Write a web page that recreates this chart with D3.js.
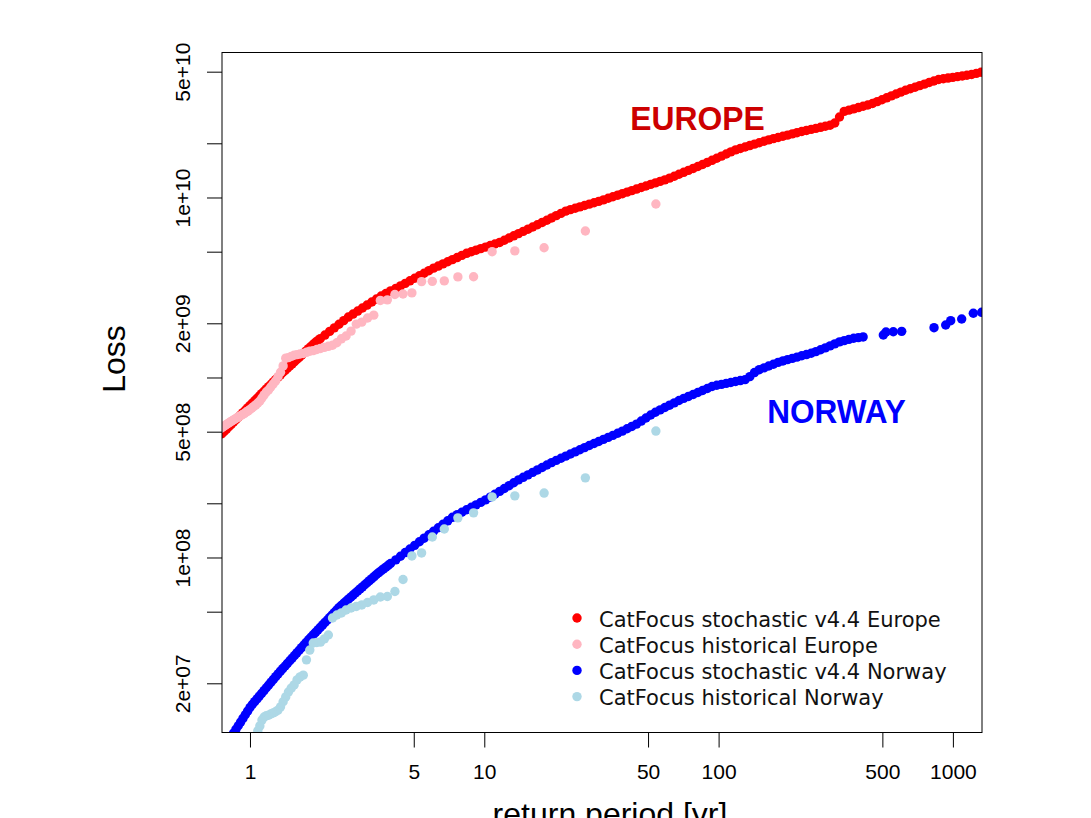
<!DOCTYPE html>
<html>
<head>
<meta charset="utf-8">
<script src="https://cdn.jsdelivr.net/npm/d3@7"></script>
<style>
  html, body { margin: 0; padding: 0; background: #ffffff; }
  svg { display: block; }
</style>
</head>
<body>
<svg id="chart" width="1091" height="818"></svg>
<script>
// ---- data -------------------------------------------------------------

// Return periods (yr) of the ranked historical events (54 years of record)
const histReturnPeriods = [
  54, 27, 18, 13.5, 10.8, 9, 7.714, 6.75, 6, 5.4,
  4.909, 4.5, 4.154, 3.857, 3.6, 3.375, 3.176, 3, 2.842, 2.7,
  2.571, 2.455, 2.348, 2.25, 2.16, 2.077, 2, 1.929, 1.862, 1.8,
  1.742, 1.688, 1.636, 1.588, 1.543, 1.5, 1.459, 1.421, 1.385, 1.35,
  1.317, 1.286, 1.256, 1.227, 1.2, 1.174, 1.149, 1.125, 1.102, 1.08,
  1.059, 1.038, 1.019, 1, 0.9818, 0.9643, 0.9474, 0.931, 0.9153, 0.9,
  0.8852, 0.871, 0.8571, 0.8438, 0.8308, 0.8182, 0.806, 0.7941, 0.7826, 0.7714,
  0.7606, 0.75
];

// Historical event losses, largest first
const europeHistorical = [
  9.20e9, 6.51e9, 5.26e9, 5.05e9, 5.00e9, 3.63e9, 3.62e9, 3.44e9, 3.42e9, 3.41e9,
  2.95e9, 2.91e9, 2.89e9, 2.70e9, 2.68e9, 2.22e9, 2.14e9, 2.03e9, 1.98e9, 1.81e9,
  1.70e9, 1.64e9, 1.56e9, 1.51e9, 1.49e9, 1.47e9, 1.45e9, 1.43e9, 1.41e9, 1.40e9,
  1.38e9, 1.36e9, 1.35e9, 1.34e9, 1.33e9, 1.31e9, 1.29e9, 1.28e9, 1.16e9, 1.07e9,
  1.01e9, 9.56e8, 9.20e8, 8.86e8, 8.52e8, 8.31e8, 8.00e8, 7.69e8, 7.40e8, 7.22e8,
  7.04e8, 6.90e8, 6.77e8, 6.64e8, 6.52e8, 6.43e8, 6.31e8, 6.23e8, 6.15e8, 6.07e8,
  6.00e8, 5.92e8, 5.84e8, 5.77e8, 5.70e8, 5.62e8, 5.55e8, 5.48e8, 5.41e8, 5.34e8,
  5.28e8, 5.22e8
];

const norwayHistorical = [
  5.04e8, 2.77e8, 2.28e8, 2.20e8, 2.17e8, 1.77e8, 1.66e8, 1.44e8, 1.30e8, 1.06e8,
  1.02e8, 7.55e7, 6.47e7, 6.07e7, 6.03e7, 5.81e7, 5.62e7, 5.45e7, 5.34e7, 5.24e7,
  5.11e7, 4.92e7, 4.79e7, 4.61e7, 3.71e7, 3.53e7, 3.39e7, 3.37e7, 3.35e7, 3.06e7,
  2.70e7, 2.22e7, 2.17e7, 2.09e7, 1.96e7, 1.88e7, 1.79e7, 1.68e7, 1.58e7, 1.48e7,
  1.42e7, 1.39e7, 1.37e7, 1.35e7, 1.33e7, 1.32e7, 1.30e7, 1.25e7, 1.16e7, 1.09e7,
  1.02e7, 9.6e6
];

// Stochastic event set v4.4: [return period (yr), loss]
const europeStochastic = [
  [0.7586, 4.87e8], [0.7762, 5.01e8], [0.7943, 5.17e8], [0.8128, 5.33e8], [0.8318, 5.49e8],
  [0.8511, 5.66e8], [0.8710, 5.83e8], [0.8913, 6.01e8], [0.9120, 6.19e8], [0.9333, 6.38e8],
  [0.9550, 6.58e8], [0.9772, 6.78e8], [1.000, 6.99e8], [1.023, 7.20e8], [1.047, 7.43e8],
  [1.072, 7.65e8], [1.096, 7.89e8], [1.122, 8.13e8], [1.148, 8.38e8], [1.175, 8.64e8],
  [1.202, 8.90e8], [1.230, 9.17e8], [1.259, 9.45e8], [1.288, 9.74e8], [1.318, 1.004e9],
  [1.349, 1.035e9], [1.380, 1.066e9], [1.413, 1.096e9], [1.445, 1.127e9], [1.479, 1.158e9],
  [1.514, 1.191e9], [1.549, 1.224e9], [1.585, 1.259e9], [1.622, 1.294e9], [1.660, 1.330e9],
  [1.698, 1.368e9], [1.738, 1.406e9], [1.778, 1.446e9], [1.820, 1.486e9], [1.862, 1.529e9],
  [1.905, 1.570e9], [1.950, 1.606e9], [1.995, 1.644e9], [2.089, 1.721e9], [2.188, 1.803e9],
  [2.291, 1.887e9], [2.399, 1.976e9], [2.512, 2.069e9], [2.630, 2.166e9], [2.754, 2.251e9],
  [2.884, 2.339e9], [3.020, 2.431e9], [3.162, 2.526e9], [3.311, 2.626e9], [3.467, 2.729e9],
  [3.631, 2.836e9], [3.802, 2.929e9], [3.981, 3.026e9], [4.192, 3.126e9], [4.390, 3.228e9],
  [4.599, 3.335e9], [4.817, 3.444e9], [5.046, 3.558e9], [5.286, 3.675e9], [5.536, 3.796e9],
  [5.799, 3.921e9], [6.075, 4.049e9], [6.364, 4.160e9], [6.665, 4.276e9], [6.982, 4.393e9],
  [7.313, 4.514e9], [7.661, 4.638e9], [8.024, 4.766e9], [8.406, 4.896e9], [8.805, 4.995e9],
  [9.222, 5.096e9], [9.660, 5.199e9], [10.12, 5.303e9], [10.60, 5.410e9], [11.10, 5.518e9],
  [11.63, 5.628e9], [12.18, 5.787e9], [12.76, 5.954e9], [13.36, 6.125e9], [14.00, 6.301e9],
  [14.66, 6.480e9], [15.37, 6.666e9], [16.09, 6.857e9], [16.86, 7.060e9], [17.66, 7.267e9],
  [18.50, 7.479e9], [19.37, 7.699e9], [20.29, 7.925e9], [21.25, 8.159e9], [22.27, 8.399e9],
  [23.32, 8.566e9], [24.43, 8.718e9], [25.59, 8.873e9], [26.80, 9.030e9], [28.07, 9.190e9],
  [29.41, 9.354e9], [30.80, 9.520e9], [32.26, 9.700e9], [33.80, 9.900e9], [35.40, 1.009e10],
  [37.09, 1.030e10], [38.85, 1.050e10], [40.69, 1.071e10], [42.62, 1.092e10], [44.64, 1.114e10],
  [46.77, 1.136e10], [48.98, 1.159e10], [51.31, 1.182e10], [53.75, 1.205e10], [56.29, 1.229e10],
  [58.97, 1.253e10], [61.78, 1.281e10], [64.71, 1.313e10], [67.78, 1.346e10], [70.99, 1.380e10],
  [74.36, 1.414e10], [77.90, 1.450e10], [81.59, 1.486e10], [85.47, 1.525e10], [89.53, 1.566e10],
  [93.78, 1.609e10], [98.23, 1.653e10], [102.9, 1.698e10], [107.8, 1.744e10], [112.8, 1.792e10],
  [118.2, 1.839e10], [123.8, 1.873e10], [129.8, 1.908e10], [135.9, 1.943e10], [142.3, 1.979e10],
  [149.1, 2.015e10], [156.3, 2.052e10], [163.6, 2.090e10], [171.4, 2.123e10], [179.5, 2.155e10],
  [188.1, 2.188e10], [196.9, 2.222e10], [206.3, 2.256e10], [216.1, 2.291e10], [226.4, 2.326e10],
  [237.2, 2.358e10], [248.4, 2.389e10], [260.2, 2.422e10], [272.5, 2.454e10], [285.5, 2.487e10],
  [299.0, 2.520e10], [313.2, 2.594e10], [328.1, 2.801e10], [343.7, 3.008e10], [360.0, 3.056e10],
  [377.1, 3.107e10], [395.0, 3.159e10], [413.8, 3.211e10], [433.4, 3.264e10], [454.0, 3.328e10],
  [475.5, 3.410e10], [498.1, 3.493e10], [521.8, 3.579e10], [546.5, 3.667e10], [572.4, 3.757e10],
  [599.6, 3.849e10], [628.2, 3.940e10], [658.0, 4.018e10], [689.2, 4.099e10], [721.9, 4.181e10],
  [756.2, 4.266e10], [792.1, 4.351e10], [829.7, 4.439e10], [869.1, 4.525e10], [910.4, 4.566e10],
  [953.6, 4.608e10], [998.9, 4.649e10], [1046, 4.692e10], [1096, 4.734e10], [1148, 4.777e10],
  [1202, 4.821e10], [1259, 4.890e10], [1319, 4.965e10], [1382, 5.040e10]
];

const norwayStochastic = [
  [0.7943, 9.20e6], [0.8128, 9.64e6], [0.8318, 1.010e7], [0.8511, 1.058e7], [0.8710, 1.109e7],
  [0.8913, 1.162e7], [0.9120, 1.218e7], [0.9333, 1.276e7], [0.9550, 1.337e7], [0.9772, 1.401e7],
  [1.000, 1.468e7], [1.023, 1.525e7], [1.047, 1.581e7], [1.072, 1.638e7], [1.096, 1.698e7],
  [1.122, 1.759e7], [1.148, 1.823e7], [1.175, 1.889e7], [1.202, 1.957e7], [1.230, 2.029e7],
  [1.259, 2.102e7], [1.288, 2.178e7], [1.318, 2.257e7], [1.349, 2.336e7], [1.380, 2.415e7],
  [1.413, 2.497e7], [1.445, 2.582e7], [1.479, 2.670e7], [1.514, 2.761e7], [1.549, 2.855e7],
  [1.585, 2.952e7], [1.622, 3.053e7], [1.660, 3.157e7], [1.698, 3.264e7], [1.738, 3.376e7],
  [1.778, 3.490e7], [1.820, 3.603e7], [1.862, 3.719e7], [1.905, 3.838e7], [1.950, 3.962e7],
  [1.995, 4.090e7], [2.042, 4.222e7], [2.089, 4.358e7], [2.138, 4.498e7], [2.188, 4.643e7],
  [2.239, 4.792e7], [2.291, 4.947e7], [2.344, 5.107e7], [2.399, 5.271e7], [2.455, 5.422e7],
  [2.512, 5.567e7], [2.570, 5.715e7], [2.630, 5.867e7], [2.692, 6.023e7], [2.754, 6.184e7],
  [2.818, 6.348e7], [2.884, 6.516e7], [2.951, 6.691e7], [3.020, 6.871e7], [3.090, 7.053e7],
  [3.162, 7.242e7], [3.236, 7.434e7], [3.311, 7.632e7], [3.388, 7.835e7], [3.467, 8.044e7],
  [3.548, 8.246e7], [3.631, 8.440e7], [3.715, 8.639e7], [3.802, 8.842e7], [3.890, 9.049e7],
  [3.981, 9.265e7], [4.192, 9.703e7], [4.390, 1.016e8], [4.599, 1.065e8], [4.817, 1.115e8],
  [5.046, 1.168e8], [5.286, 1.223e8], [5.536, 1.280e8], [5.799, 1.338e8], [6.075, 1.399e8],
  [6.364, 1.463e8], [6.665, 1.529e8], [6.982, 1.599e8], [7.313, 1.672e8], [7.661, 1.729e8],
  [8.024, 1.785e8], [8.406, 1.842e8], [8.805, 1.901e8], [9.222, 1.961e8], [9.660, 2.024e8],
  [10.12, 2.089e8], [10.60, 2.163e8], [11.10, 2.245e8], [11.63, 2.329e8], [12.18, 2.416e8],
  [12.76, 2.506e8], [13.36, 2.600e8], [14.00, 2.698e8], [14.66, 2.789e8], [15.37, 2.878e8],
  [16.09, 2.970e8], [16.86, 3.065e8], [17.66, 3.162e8], [18.50, 3.263e8], [19.37, 3.367e8],
  [20.29, 3.465e8], [21.25, 3.560e8], [22.27, 3.657e8], [23.32, 3.758e8], [24.43, 3.861e8],
  [25.59, 3.968e8], [26.80, 4.077e8], [28.07, 4.187e8], [29.41, 4.298e8], [30.80, 4.412e8],
  [32.26, 4.529e8], [33.80, 4.648e8], [35.40, 4.772e8], [37.09, 4.898e8], [38.85, 5.036e8],
  [40.69, 5.189e8], [42.62, 5.346e8], [44.64, 5.508e8], [46.77, 5.728e8], [48.98, 5.955e8],
  [51.31, 6.191e8], [53.75, 6.412e8], [56.29, 6.607e8], [58.97, 6.809e8], [61.78, 7.017e8],
  [64.71, 7.230e8], [67.78, 7.452e8], [70.99, 7.652e8], [74.36, 7.849e8], [77.90, 8.050e8],
  [81.59, 8.258e8], [85.47, 8.470e8], [89.53, 8.687e8], [93.78, 8.910e8], [98.23, 9.051e8],
  [102.9, 9.161e8], [107.8, 9.273e8], [112.8, 9.384e8], [118.2, 9.499e8], [123.8, 9.616e8],
  [129.8, 9.732e8], [135.9, 1.011e9], [142.3, 1.065e9], [149.1, 1.105e9], [156.3, 1.131e9],
  [163.6, 1.158e9], [171.4, 1.185e9], [179.5, 1.213e9], [188.1, 1.236e9], [196.9, 1.257e9],
  [206.3, 1.277e9], [216.1, 1.298e9], [226.4, 1.320e9], [237.2, 1.341e9], [248.4, 1.364e9],
  [260.2, 1.392e9], [272.5, 1.426e9], [285.5, 1.461e9], [299.0, 1.498e9], [313.2, 1.537e9],
  [328.1, 1.577e9], [343.7, 1.603e9], [360.0, 1.628e9], [377.1, 1.652e9], [395.0, 1.666e9],
  [413.8, 1.680e9], [504.6, 1.722e9], [518.2, 1.789e9], [556.6, 1.795e9], [604.6, 1.805e9],
  [830.7, 1.891e9], [931.7, 1.957e9], [978.6, 2.068e9], [1090, 2.113e9], [1222, 2.274e9],
  [1327, 2.302e9]
];

// Axis ticks and labels
const xTicks = [1, 5, 10, 50, 100, 500, 1000];
const yTicks = [2e7, 5e7, 1e8, 2e8, 5e8, 1e9, 2e9, 5e9, 1e10, 2e10, 5e10];
const yLabelValues = [2e7, 1e8, 5e8, 2e9, 1e10, 5e10];
const yLabelTexts = ["2e+07", "1e+08", "5e+08", "2e+09", "1e+10", "5e+10"];

const legendLabels = [
  "CatFocus stochastic v4.4 Europe",
  "CatFocus historical Europe",
  "CatFocus stochastic v4.4 Norway",
  "CatFocus historical Norway"
];
const legendColors = ["#ff0000", "#ffb6c1", "#0000ff", "#add8e6"];

// ---- layout -----------------------------------------------------------

const W = 1091, H = 818;
const plot = { left: 222, right: 982, top: 52.5, bottom: 732.5 };
const axisFont = "'Liberation Sans', Arimo, Arial, Helvetica, sans-serif";
const dotR = 4.7;

const svg = d3.select("#chart");
svg.append("rect").attr("width", W).attr("height", H).attr("fill", "#ffffff");

const x = d3.scaleLog().domain([0.7596, 1331]).range([plot.left, plot.right]);
const y = d3.scaleLog().domain([1.066e7, 6.39e10]).range([plot.bottom, plot.top]);

svg.append("defs").append("clipPath").attr("id", "plotClip")
  .append("rect")
  .attr("x", plot.left).attr("y", plot.top)
  .attr("width", plot.right - plot.left).attr("height", plot.bottom - plot.top);

const marks = svg.append("g").attr("clip-path", "url(#plotClip)");

function drawPoints(points, color) {
  marks.append("g")
    .selectAll("circle")
    .data(points)
    .join("circle")
    .attr("cx", d => x(d[0]))
    .attr("cy", d => y(d[1]))
    .attr("r", dotR)
    .attr("fill", color);
}

const europeHistPoints = europeHistorical.map((v, i) => [histReturnPeriods[i], v]);
const norwayHistPoints = norwayHistorical.map((v, i) => [histReturnPeriods[i], v]);

drawPoints(europeStochastic, legendColors[0]);
drawPoints(europeHistPoints, legendColors[1]);
drawPoints(norwayStochastic, legendColors[2]);
drawPoints(norwayHistPoints, legendColors[3]);

// ---- axes -------------------------------------------------------------

const xAxis = d3.axisBottom(x)
  .tickValues(xTicks)
  .tickFormat(d3.format("d"))
  .tickSize(15)
  .tickPadding(17);

const gx = svg.append("g")
  .attr("transform", `translate(0,${plot.bottom})`)
  .call(xAxis);
gx.select(".domain").remove();
gx.selectAll(".tick line").attr("stroke", "#000").attr("stroke-width", 1);
gx.selectAll(".tick text")
  .attr("fill", "#000")
  .style("font-family", axisFont)
  .style("font-size", "21px");

const yAxis = d3.axisLeft(y)
  .tickValues(yTicks)
  .tickSize(15)
  .tickFormat(d => {
    const i = yLabelValues.indexOf(d);
    return i >= 0 ? yLabelTexts[i] : "";
  });

const gy = svg.append("g")
  .attr("transform", `translate(${plot.left},0)`)
  .call(yAxis);
gy.select(".domain").remove();
gy.selectAll(".tick line").attr("stroke", "#000").attr("stroke-width", 1);
gy.selectAll(".tick text")
  .attr("x", 0)
  .attr("dy", null)
  .attr("text-anchor", "middle")
  .attr("transform", "translate(-32,0) rotate(-90)")
  .attr("fill", "#000")
  .style("font-family", axisFont)
  .style("font-size", "21px");

// plot frame
svg.append("rect")
  .attr("x", plot.left).attr("y", plot.top)
  .attr("width", plot.right - plot.left).attr("height", plot.bottom - plot.top)
  .attr("fill", "none").attr("stroke", "#000").attr("stroke-width", 1);

// axis titles
svg.append("text")
  .attr("transform", "translate(125,359) rotate(-90)")
  .attr("text-anchor", "middle")
  .style("font-family", axisFont)
  .style("font-size", "32px")
  .attr("fill", "#000")
  .text("Loss");

svg.append("text")
  .attr("x", 610).attr("y", 825)
  .attr("text-anchor", "middle")
  .style("font-family", axisFont)
  .style("font-size", "32px")
  .attr("fill", "#000")
  .text("return period [yr]");

// region labels
svg.append("text")
  .attr("x", 697.5).attr("y", 129.5)
  .attr("text-anchor", "middle")
  .attr("textLength", 134.5)
  .attr("lengthAdjust", "spacingAndGlyphs")
  .style("font-family", axisFont)
  .style("font-weight", "bold")
  .style("font-size", "33px")
  .attr("fill", "#cd0000")
  .text("EUROPE");

svg.append("text")
  .attr("x", 836.5).attr("y", 423)
  .attr("text-anchor", "middle")
  .attr("textLength", 138.5)
  .attr("lengthAdjust", "spacingAndGlyphs")
  .style("font-family", axisFont)
  .style("font-weight", "bold")
  .style("font-size", "33px")
  .attr("fill", "#0000ff")
  .text("NORWAY");

// ---- legend -----------------------------------------------------------

const legend = svg.append("g").attr("transform", "translate(577,618)");
const rows = legend.selectAll("g")
  .data(legendLabels)
  .join("g")
  .attr("transform", (d, i) => `translate(0,${i * 26.2})`);
rows.append("circle")
  .attr("r", dotR)
  .attr("fill", (d, i) => legendColors[i]);
rows.append("text")
  .attr("x", 22).attr("y", 8.5)
  .style("font-family", "'DejaVu Sans', Verdana, sans-serif")
  .style("font-size", "21px")
  .attr("fill", "#111")
  .text(d => d);
</script>
</body>
</html>
